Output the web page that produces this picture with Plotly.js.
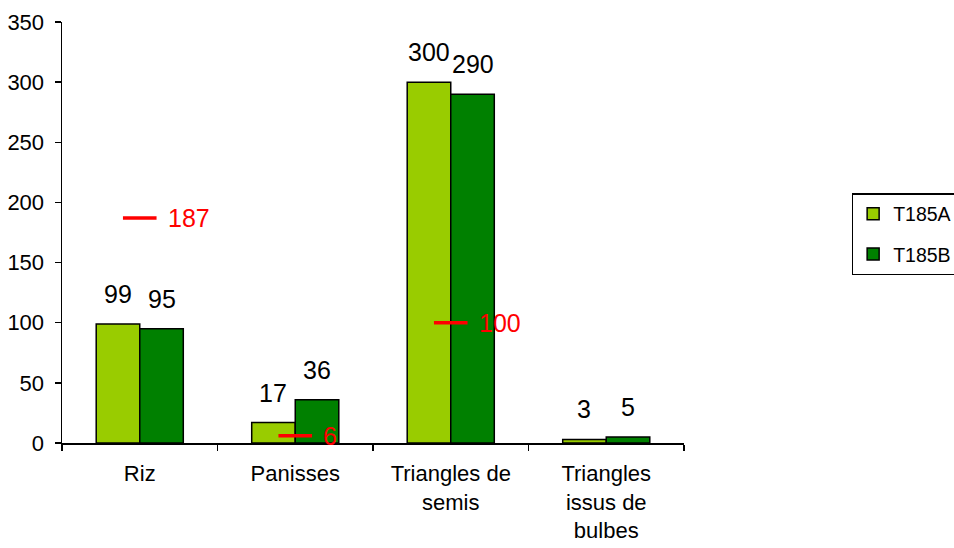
<!DOCTYPE html>
<html>
<head>
<meta charset="utf-8">
<script src="https://cdn.plot.ly/plotly-3.0.1.min.js"></script>
<style>
  html, body { margin: 0; padding: 0; background: #fff; }
  #chart { width: 954px; height: 548px; }
</style>
</head>
<body>
<div id="chart"></div>
<script>
// Counts per sample type for the two lots, plus the reference count (red dash)
const categories = ['Riz', 'Panisses', 'Triangles de<br>semis', 'Triangles<br>issus de<br>bulbes'];
const seriesNames = ['T185A', 'T185B'];
const t185a = [99, 17, 300, 3];
const t185b = [95, 36, 290, 5];
const referenceValues = [187, 6, 100, null];
const yTicks = [0, 50, 100, 150, 200, 250, 300, 350];

const FONT = 'Liberation Sans, Arial, sans-serif';
const BARGAP = 0.44;
const seriesColors = ['#99CC00', '#008000'];
const seriesValues = [t185a, t185b];

const traces = seriesValues.map((vals, s) => ({
  type: 'bar',
  name: seriesNames[s],
  legendgroup: seriesNames[s],
  x: categories,
  y: vals,
  marker: { color: seriesColors[s], line: { color: '#000', width: 1.5 } },
  hoverinfo: 'skip'
}));

// Reference counts: short red dash at the category centre with its value beside it
const refX = [], refY = [];
referenceValues.forEach((v, i) => {
  if (v === null) return;
  refX.push(categories[i]);
  refY.push(v);
});
traces.push({
  type: 'scatter',
  mode: 'markers',
  x: refX,
  y: refY,
  marker: { symbol: 'line-ew', size: 24, line: { color: '#FF0000', width: 3.5 } },
  showlegend: false,
  hoverinfo: 'skip'
});

// Value labels above each bar and beside each red dash
const annotations = [];
const half = (1 - BARGAP) / 4;
seriesValues.forEach((vals, s) => {
  vals.forEach((v, i) => {
    annotations.push({
      x: i + (s === 0 ? -half : half),
      y: v,
      xref: 'x', yref: 'y',
      text: String(v),
      showarrow: false,
      yanchor: 'bottom',
      yshift: 14,
      font: { family: FONT, size: 25, color: '#000' }
    });
  });
});
referenceValues.forEach((v, i) => {
  if (v === null) return;
  annotations.push({
    x: i, y: v, xref: 'x', yref: 'y',
    text: String(v),
    showarrow: false,
    xanchor: 'left',
    xshift: 26,
    font: { family: FONT, size: 25, color: '#FF0000' }
  });
});

const layout = {
  width: 954,
  height: 548,
  margin: { l: 62, r: 270, t: 22, b: 105, autoexpand: false },
  paper_bgcolor: '#fff',
  plot_bgcolor: '#fff',
  barmode: 'group',
  bargap: BARGAP,
  bargroupgap: 0,
  font: { family: FONT, size: 22, color: '#000' },
  showlegend: true,
  legend: {
    x: 1.270, y: 0.593, xanchor: 'left', yanchor: 'top',
    traceorder: 'grouped', tracegroupgap: 12,
    bordercolor: '#000', borderwidth: 1.2,
    font: { family: FONT, size: 19.5, color: '#000' },
    bgcolor: '#fff'
  },
  xaxis: {
    type: 'category',
    showline: true, linecolor: '#000', linewidth: 1.5,
    ticks: 'outside', tickson: 'boundaries', ticklen: 6, tickwidth: 1.5, tickcolor: '#000',
    showgrid: false, zeroline: false,
    tickfont: { family: FONT, size: 22, color: '#000' },
    ticklabelstandoff: 10,
    fixedrange: true
  },
  yaxis: {
    range: [0, 350],
    tickvals: yTicks,
    ticktext: yTicks.map(String),
    showline: true, linecolor: '#000', linewidth: 1.5,
    ticks: 'outside', ticklen: 6, tickwidth: 1.5, tickcolor: '#000',
    showgrid: false, zeroline: false,
    tickfont: { family: FONT, size: 22, color: '#000' },
    ticklabelstandoff: 6,
    fixedrange: true
  },
  annotations: annotations
};

Plotly.newPlot('chart', traces, layout, { displayModeBar: false, staticPlot: true });
</script>
</body>
</html>
